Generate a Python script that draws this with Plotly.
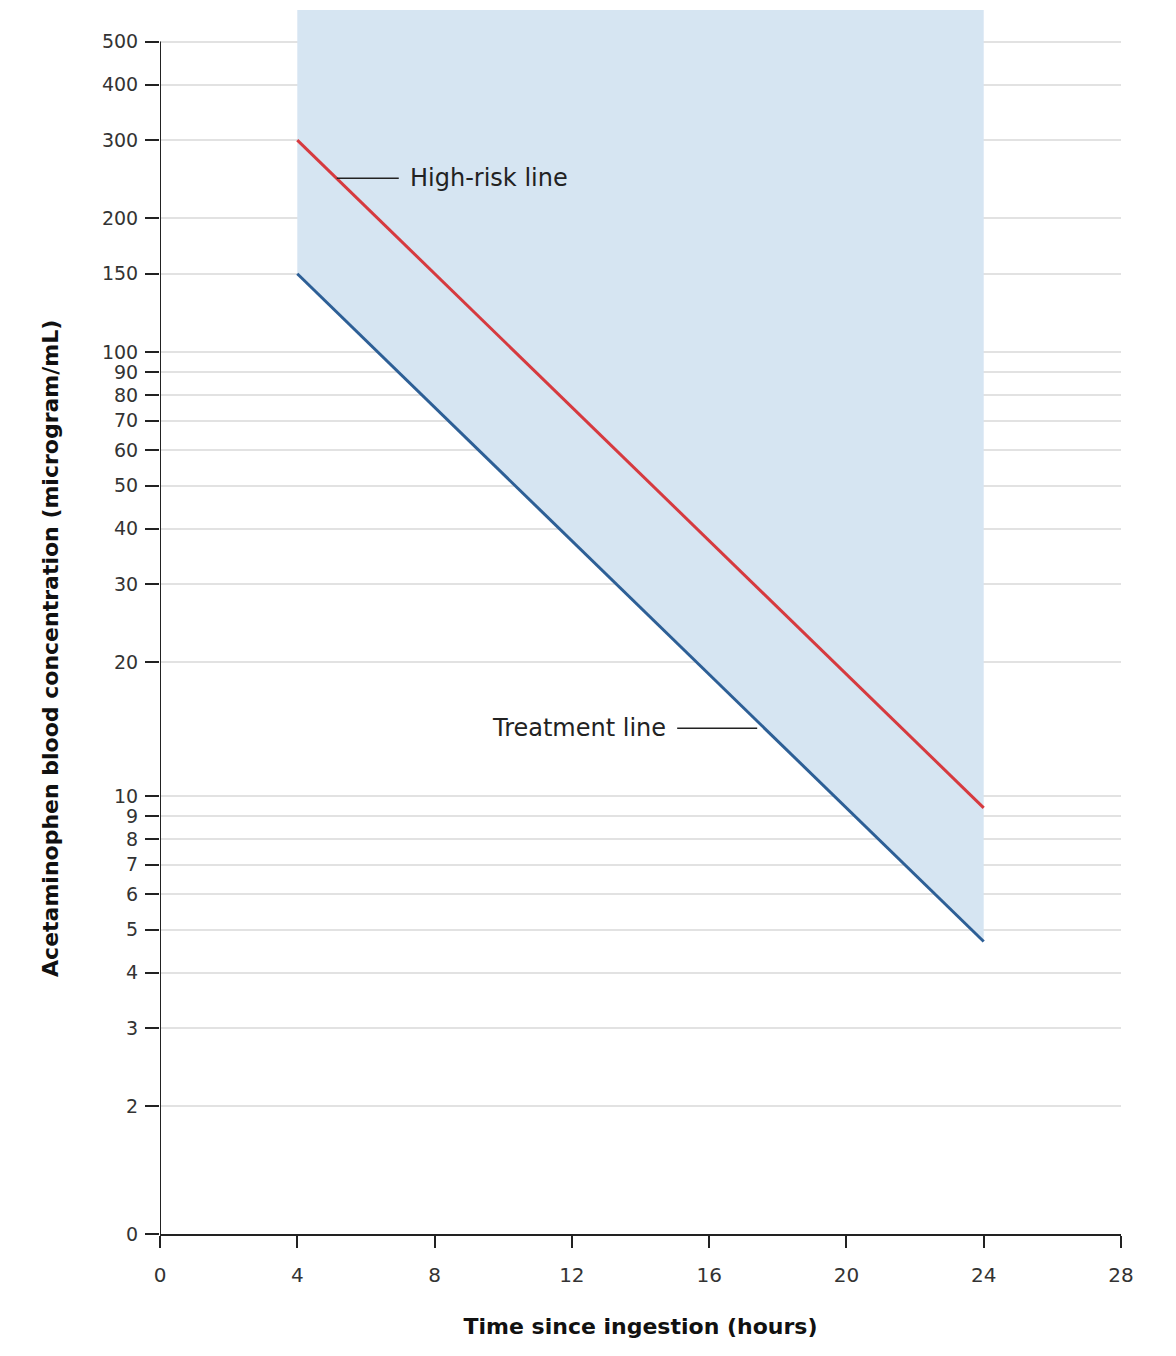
import math
import plotly.graph_objects as go

# Nomogram values
hours = [4, 24]
treatment_line = [150, 4.7]
high_risk_line = [300, 9.4]

y_bottom = 1.031  # value at the x axis, labelled "0"
y_top = 589       # top of shaded zone / plot area

y_tick_vals = [y_bottom, 2, 3, 4, 5, 6, 7, 8, 9, 10, 20, 30, 40, 50, 60, 70, 80, 90,
               100, 150, 200, 300, 400, 500]
y_tick_text = ['0'] + [str(v) for v in y_tick_vals[1:]]
x_tick_vals = [0, 4, 8, 12, 16, 20, 24, 28]

font_family = 'Verdana, DejaVu Sans, sans-serif'

fig = go.Figure()

# shaded zone above the treatment line
fig.add_trace(go.Scatter(
    x=[hours[0], hours[1], hours[1], hours[0]],
    y=[treatment_line[0], treatment_line[1], y_top, y_top],
    fill='toself', fillcolor='#d6e5f2', mode='none',
    hoverinfo='skip', showlegend=False))

fig.add_trace(go.Scatter(x=hours, y=high_risk_line, mode='lines',
                         line=dict(color='#d63a3f', width=3),
                         name='High-risk line', showlegend=False))
fig.add_trace(go.Scatter(x=hours, y=treatment_line, mode='lines',
                         line=dict(color='#2d5f96', width=3),
                         name='Treatment line', showlegend=False))

# y axis line only from 0 to 500
fig.add_shape(type='line', xref='x', yref='y', x0=0, x1=0,
              y0=y_bottom, y1=500, line=dict(color='#222', width=2))

fig.add_annotation(x=5.15, y=math.log10(246), text='High-risk line',
                   showarrow=True, arrowhead=0, arrowwidth=1.5, arrowcolor='#222',
                   ax=62, ay=0, xanchor='left', standoff=0, borderpad=10,
                   font=dict(size=24, color='#222', family=font_family))
fig.add_annotation(x=17.4, y=math.log10(14.2), text='Treatment line',
                   showarrow=True, arrowhead=0, arrowwidth=1.5, arrowcolor='#222',
                   ax=-80, ay=0, xanchor='right', standoff=0, borderpad=10,
                   font=dict(size=24, color='#222', family=font_family))

fig.add_annotation(xref='paper', yref='paper', x=(43 - 152) / 961, y=0.478,
                   xanchor='center', yanchor='middle',
                   text='<b>Acetaminophen blood concentration (microgram/mL)</b>',
                   textangle=-90, showarrow=False,
                   font=dict(size=22, color='#111', family=font_family))

fig.update_xaxes(range=[0, 28], tickvals=x_tick_vals, ticks='outside', ticklen=12,
                 tickwidth=2, tickcolor='#222', showline=True, linecolor='#222',
                 linewidth=2, showgrid=False, zeroline=False, ticklabelstandoff=10,
                 tickfont=dict(size=20, color='#333', family=font_family),
                 title=dict(text='<b>Time since ingestion (hours)</b>', standoff=33,
                            font=dict(size=22, color='#111', family=font_family)))
fig.update_yaxes(type='log', range=[math.log10(y_bottom), math.log10(y_top)],
                 tickvals=y_tick_vals, ticktext=y_tick_text, ticks='outside',
                 ticklen=14, tickwidth=2, tickcolor='#222', showline=False,
                 showgrid=True, gridcolor='#e2e2e2', gridwidth=2, zeroline=False,
                 ticklabelstandoff=3,
                 tickfont=dict(size=19, color='#333', family=font_family))

fig.update_layout(width=1176, height=1356, plot_bgcolor='white',
                  paper_bgcolor='white',
                  margin=dict(l=152, r=63, t=2, b=130))

fig.write_html("out.html")
